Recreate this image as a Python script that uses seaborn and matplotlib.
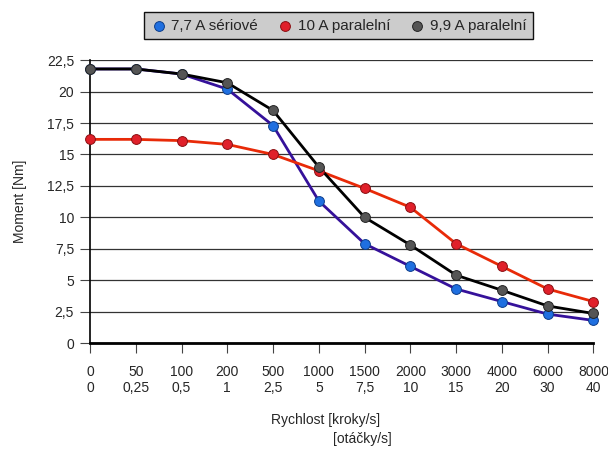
import numpy as np
import pandas as pd
import seaborn as sns
import matplotlib.pyplot as plt

### Data
kroky = ["0", "50", "100", "200", "500", "1000", "1500", "2000", "3000", "4000", "6000", "8000"]
otacky = ["0", "0,25", "0,5", "1", "2,5", "5", "7,5", "10", "15", "20", "30", "40"]
series_names = ["7,7 A sériové", "10 A paralelní", "9,9 A paralelní"]
serial_77 = [21.8, 21.8, 21.4, 20.2, 17.3, 11.3, 7.9, 6.1, 4.3, 3.3, 2.3, 1.8]
parallel_10 = [16.2, 16.2, 16.1, 15.8, 15.0, 13.7, 12.3, 10.8, 7.9, 6.1, 4.3, 3.3]
parallel_99 = [21.8, 21.8, 21.4, 20.7, 18.5, 14.0, 10.0, 7.8, 5.4, 4.2, 2.95, 2.35]

line_colors = ["#35119a", "#e82a08", "#000000"]
marker_colors = ["#1f6fe0", "#e0202a", "#555555"]
marker_edges = ["#0d3d8a", "#8a0f12", "#222222"]

pos = np.arange(len(kroky))
df = pd.concat([
    pd.DataFrame({"pos": pos, "moment": vals, "serie": name})
    for name, vals in zip(series_names, [serial_77, parallel_10, parallel_99])
])

sns.set_style("white")
plt.rcParams["font.family"] = ["Liberation Sans", "DejaVu Sans"]

fig = plt.figure(figsize=(6.08, 4.49), dpi=100)
ax = fig.add_axes([0.148, 0.236, 0.828, 0.630])

sns.lineplot(data=df, x="pos", y="moment", hue="serie", hue_order=series_names,
             palette=line_colors, linewidth=2, legend=False, ax=ax, zorder=3)
for name, mc, ec in zip(series_names, marker_colors, marker_edges):
    sub = df[df["serie"] == name]
    ax.scatter(sub["pos"], sub["moment"], s=50, color=mc, edgecolor=ec,
               linewidth=0.7, zorder=4, label=name, clip_on=False)

ax.set_xlim(0, len(kroky) - 1)
ax.set_ylim(0, 22.5)
yticks = np.arange(0, 22.6, 2.5)
ax.set_yticks(yticks)
ax.set_yticklabels([("%g" % t).replace(".", ",") for t in yticks], fontsize=10)
ax.set_xticks(pos)
ax.set_xticklabels([a + "\n" + b for a, b in zip(kroky, otacky)], fontsize=10,
                   linespacing=1.2)
ax.grid(axis="y", color="#333333", linewidth=0.9)
ax.set_axisbelow(True)
for s in ["top", "right"]:
    ax.spines[s].set_visible(False)
ax.spines["left"].set_linewidth(1.2)
ax.spines["bottom"].set_linewidth(2)
ax.spines["left"].set_color("black")
ax.spines["bottom"].set_color("black")
ax.tick_params(axis="both", direction="out", length=7.5, width=0.8, color="#444444",
               bottom=True, left=True)
ax.tick_params(axis="x", pad=8)
ax.tick_params(axis="y", pad=4)

ax.set_xlabel("")
ax.set_ylabel("Moment [Nm]", fontsize=10, labelpad=14)
fig.text(0.535, 0.065, "Rychlost [kroky/s]", fontsize=10, ha="center", va="center")
fig.text(0.596, 0.022, "[otáčky/s]", fontsize=10, ha="center", va="center")

leg = fig.legend(loc="upper center", bbox_to_anchor=(0.557, 0.991), ncol=3,
                 fontsize=11, frameon=True, fancybox=False, framealpha=1,
                 facecolor="#cccccc", edgecolor="#111111", handletextpad=0.3,
                 columnspacing=1.3, handlelength=1.0, borderpad=0.45)
leg.get_frame().set_linewidth(1)

fig.savefig("out.png", dpi=100)
